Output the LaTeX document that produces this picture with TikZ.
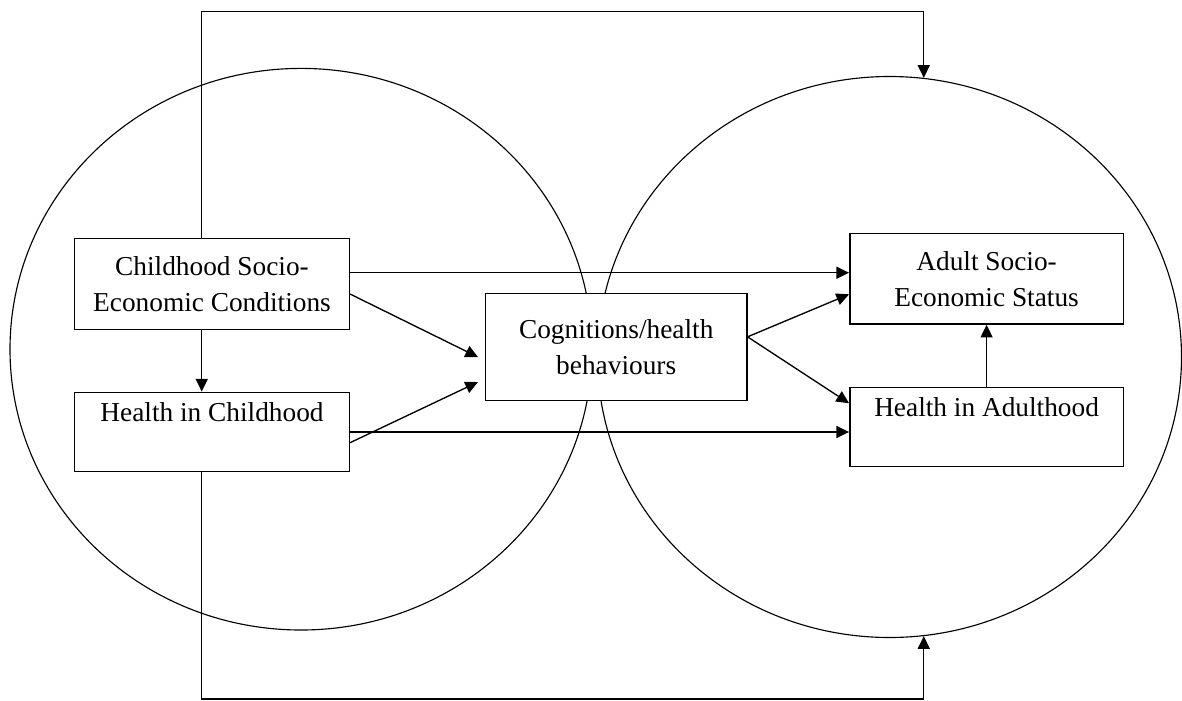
\documentclass[tikz,border=0pt]{standalone}
\usepackage{fontspec}
\setmainfont{Liberation Serif}
\usetikzlibrary{arrows.meta,shapes.geometric}

\begin{document}
\begin{tikzpicture}[x=0.75pt,y=-0.75pt,
  zone/.style={draw, ellipse, inner sep=0pt, line width=0.85pt},
  stage/.style={draw, fill=white, rectangle, inner sep=2pt, align=center,
    line width=1.1pt, font=\fontsize{20.5}{27}\selectfont},
  arr/.style={-{Triangle[length=9.5pt,width=9pt]}, line width=1pt},
  gap/.style={shorten >=5.5pt}]
\useasboundingbox (0,0) rectangle (1182,700);

% life-course zones
\node[zone, minimum width=436.5pt, minimum height=421.2pt] (childzone) at (301,349.2) {};
\node[zone, minimum width=438pt, minimum height=420.75pt] (adultzone) at (889.5,357) {};

% stages
\node[stage, minimum width=206.1pt, minimum height=68.25pt] (csec) at (212,283.8)
  {Childhood Socio-\\Economic Conditions};
\node[stage, minimum width=206.1pt, minimum height=59.55pt] (hic) at (212,432)
  {\strut Health in Childhood\\\strut};
\node[stage, minimum width=196.3pt, minimum height=80.55pt] (cog) at (616.2,347)
  {Cognitions/health\\behaviours};
\node[stage, minimum width=205.2pt, minimum height=68pt] (ases) at (986.6,278.7)
  {Adult Socio-\\Economic Status};
\node[stage, minimum width=205.2pt, minimum height=59.55pt] (ha) at (986.6,427)
  {\strut Health in Adulthood\\\strut};

% anchor points for the connectors
\coordinate (c1) at ([yshift=8.3pt]csec.east);
\coordinate (cstem) at ([xshift=-7.7pt]csec.south);
\coordinate (ctop) at ([xshift=-7.7pt]csec.north);
\coordinate (hbot) at ([xshift=-7.7pt]hic.south);
\coordinate (toprail) at (0,11.7);
\coordinate (botrail) at (0,699);

% direct paths
\draw[arr] (c1) -- (c1 -| ases.west);
\draw[arr] (hic.east) -- (hic.east -| ha.west);
\draw[arr] (cstem) -- (cstem |- hic.north);
\draw[arr] (ha.north) -- (ases.south);

% paths through cognitions
\draw[arr, gap] ([yshift=-7.7pt]csec.east) -- ([yshift=-10pt]cog.west);
\draw[arr, gap] ([yshift=-8pt]hic.east) -- ([yshift=-23.9pt]cog.west);
\draw[arr] ([yshift=7.7pt]cog.east) -- ([yshift=-11.7pt]ases.west);
\draw[arr] ([yshift=7.5pt]cog.east) -- ([yshift=17.8pt]ha.west);

% outer loops into the adult zone
\draw[arr] (ctop) -- (ctop |- toprail) -| (adultzone.83.56);
\draw[arr] (hbot) -- (hbot |- botrail) -| (adultzone.-83.56);
\end{tikzpicture}
\end{document}
